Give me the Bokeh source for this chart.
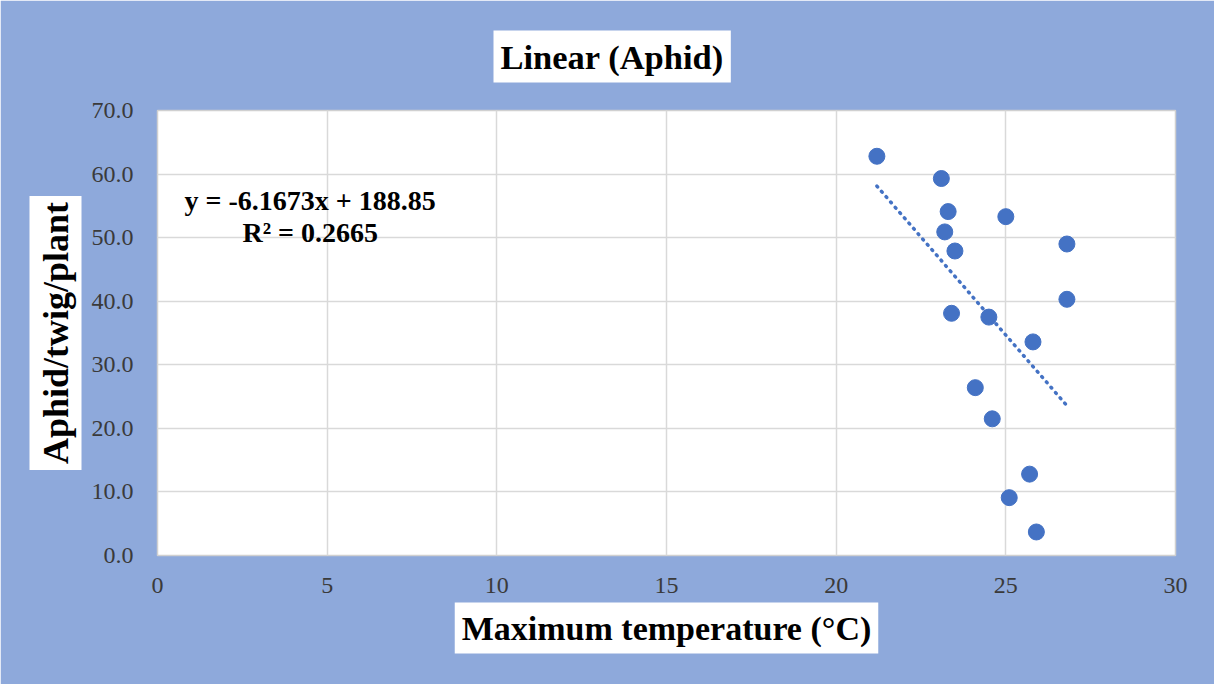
import numpy as np
from bokeh.plotting import figure
from bokeh.models import Label, Title, NumeralTickFormatter, FixedTicker, Range1d
from bokeh.embed import file_html
from bokeh.resources import INLINE

# Data
max_temp = [21.2, 23.1, 23.3, 25.0, 23.2, 23.5, 26.8, 26.8, 23.4, 24.5, 25.8, 24.1, 24.6, 25.7, 25.1, 25.9]
aphid = [62.8, 59.3, 54.1, 53.3, 50.9, 47.9, 49.0, 40.3, 38.1, 37.5, 33.6, 26.4, 21.5, 12.8, 9.1, 3.7]
slope = -6.1673
intercept = 188.85
r2 = 0.2665
x_ticks = [0, 5, 10, 15, 20, 25, 30]
y_ticks = [0, 10, 20, 30, 40, 50, 60, 70]

BG = "#8EA9DB"
BLUE = "#4472C4"
FONT = "Liberation Serif"

p = figure(width=1214, height=684, output_backend="svg", toolbar_location=None,
           x_range=Range1d(0, 30), y_range=Range1d(0, 70),
           min_border_left=157, min_border_right=39, min_border_top=106, min_border_bottom=129)
p.border_fill_color = BG
p.background_fill_color = "white"
p.outline_line_color = "#D0D0D0"
p.outline_line_width = 1.5

for ax in (p.xaxis[0], p.yaxis[0]):
    ax.axis_line_color = None
    ax.major_tick_line_color = None
    ax.minor_tick_line_color = None
    ax.major_label_text_font = FONT
    ax.major_label_text_font_size = "24px"
    ax.major_label_text_color = "#3a3a3a"

p.xaxis.ticker = FixedTicker(ticks=x_ticks)
p.yaxis.ticker = FixedTicker(ticks=y_ticks)
p.yaxis.formatter = NumeralTickFormatter(format="0.0")
p.xaxis.major_label_standoff = 16
p.yaxis.major_label_standoff = 18

p.xgrid.ticker = FixedTicker(ticks=x_ticks)
p.ygrid.ticker = FixedTicker(ticks=y_ticks)
p.xgrid.grid_line_color = "#D9D9D9"
p.ygrid.grid_line_color = "#D9D9D9"
p.xgrid.grid_line_width = 1.5
p.ygrid.grid_line_width = 1.5

# trendline
tx = np.array([min(max_temp), max(max_temp)])
ty = slope * tx + intercept
p.line(tx, ty, line_color=BLUE, line_width=3.5, line_dash="1 6", line_cap="round")

# points
p.scatter(max_temp, aphid, size=16, fill_color=BLUE, line_color=BLUE)

# equation
p.add_layout(Label(x=4.5, y=55.8, text=f"y = {slope}x + {intercept}", text_font=FONT,
                   text_font_style="bold", text_font_size="28px", text_align="center",
                   text_baseline="middle", text_color="black"))
p.add_layout(Label(x=4.5, y=50.8, text=f"R² = {r2}", text_font=FONT,
                   text_font_style="bold", text_font_size="28px", text_align="center",
                   text_baseline="middle", text_color="black"))

# title
p.add_layout(Title(text="Linear (Aphid)", text_font=FONT, text_font_style="bold",
                   text_font_size="34.5px", text_color="black", align="left", offset=336,
                   background_fill_color="white", padding=7, standoff=56), "above")

# x axis label
p.add_layout(Title(text="Maximum temperature (°C)", text_font=FONT, text_font_style="bold",
                   text_font_size="34px", text_color="black", align="center",
                   background_fill_color="white", padding=7, standoff=10), "below")
# y axis label
p.add_layout(Title(text="Aphid/twig/plant", text_font=FONT, text_font_style="bold",
                   text_font_size="36px", text_color="black", align="center",
                   background_fill_color="white", padding=6, standoff=14), "left")

open("out.html", "w").write(file_html(p, INLINE))
